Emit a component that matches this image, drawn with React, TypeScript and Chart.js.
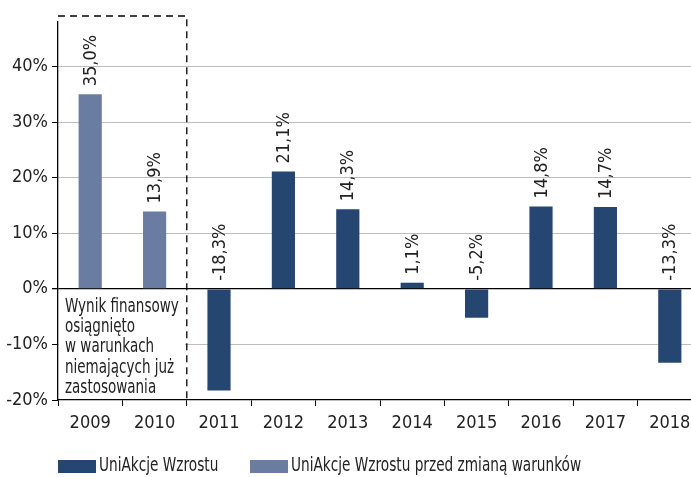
import React, { useEffect, useRef } from "react";
import { Chart, registerables } from "chart.js";

Chart.register(...registerables);

const categories = ["2009", "2010", "2011", "2012", "2013", "2014", "2015", "2016", "2017", "2018"];
const seriesMain = [null, null, -18.3, 21.1, 14.3, 1.1, -5.2, 14.8, 14.7, -13.3];
const seriesOld = [35.0, 13.9, null, null, null, null, null, null, null, null];
const yTicks = [-20, -10, 0, 10, 20, 30, 40];
const seriesLabels = ["UniAkcje Wzrostu", "UniAkcje Wzrostu przed zmianą warunków"];
const noteLines = ["Wynik finansowy", "osiągnięto", "w warunkach", "niemających już", "zastosowania"];

const FONT = "'DejaVu Sans Condensed', 'DejaVu Sans', sans-serif";
const FS = 18;
const TEXT = "#222222";
const DARK = "rgb(38,70,114)";
const LIGHT = "rgb(106,124,162)";

const fmt = (v: number) => v.toFixed(1).replace(".", ",") + "%";

const labelsPlugin = {
  id: "valueLabels",
  afterDatasetsDraw(chart: any) {
    const ctx = chart.ctx;
    const y0 = chart.scales.y.getPixelForValue(0);
    ctx.save();
    ctx.font = `${FS}px ${FONT}`;
    ctx.fillStyle = TEXT;
    ctx.textAlign = "left";
    ctx.textBaseline = "middle";
    chart.data.datasets.forEach((ds: any, di: number) => {
      const meta = chart.getDatasetMeta(di);
      meta.data.forEach((el: any, i: number) => {
        const v = ds.data[i];
        if (v === null || v === undefined) return;
        const start = v >= 0 ? el.y : y0;
        ctx.save();
        ctx.translate(el.x, start - 8);
        ctx.rotate(-Math.PI / 2);
        ctx.fillText(fmt(v), 0, 1);
        ctx.restore();
      });
    });
    ctx.restore();
  },
};

function narrowText(ctx: any, text: string, x: number, y: number, sx: number) {
  ctx.save();
  ctx.translate(x, y);
  ctx.scale(sx, 1);
  ctx.fillText(text, 0, 0);
  ctx.restore();
}

const boxPlugin = {
  id: "noteBox",
  afterDraw(chart: any) {
    const ctx = chart.ctx;
    const xs = chart.scales.x;
    const ys = chart.scales.y;
    const area = chart.chartArea;
    const xr = (xs.getPixelForValue(1) + xs.getPixelForValue(2)) / 2;
    const xl = area.left;
    const top = area.top - 6;
    const bottom = area.bottom;
    const y0 = ys.getPixelForValue(0);
    ctx.save();
    ctx.fillStyle = "#ffffff";
    ctx.fillRect(xl + 1, y0 + 2, xr - xl - 3, bottom - y0 - 3);
    ctx.strokeStyle = "#000000";
    ctx.lineWidth = 1.3;
    ctx.setLineDash([7, 5]);
    ctx.beginPath();
    ctx.moveTo(xl, top);
    ctx.lineTo(xr, top);
    ctx.lineTo(xr, bottom);
    ctx.stroke();
    ctx.setLineDash([]);
    ctx.font = `19px ${FONT}`;
    ctx.fillStyle = TEXT;
    ctx.textAlign = "left";
    ctx.textBaseline = "alphabetic";
    noteLines.forEach((line, i) => {
      narrowText(ctx, line, xl + 7, y0 + 23 + i * 20.3, 0.79);
    });
    const colors = [DARK, LIGHT];
    const starts = [area.left, area.left + 192];
    const ly = 460;
    seriesLabels.forEach((lab, i) => {
      ctx.fillStyle = colors[i];
      ctx.fillRect(starts[i], ly, 38, 13);
      ctx.fillStyle = TEXT;
      ctx.textBaseline = "middle";
      narrowText(ctx, lab, starts[i] + 41, ly + 6.5, 0.8);
    });
    ctx.restore();
  },
};

export default function App() {
  const ref = useRef<HTMLCanvasElement | null>(null);
  useEffect(() => {
    if (!ref.current) return;
    const chart = new Chart(ref.current, {
      type: "bar",
      data: {
        labels: categories,
        datasets: [
          { label: seriesLabels[0], data: seriesMain, backgroundColor: DARK, barPercentage: 0.36, categoryPercentage: 1 },
          { label: seriesLabels[1], data: seriesOld, backgroundColor: LIGHT, barPercentage: 0.36, categoryPercentage: 1 },
        ],
      },
      options: {
        animation: false,
        responsive: false,
        maintainAspectRatio: false,
        layout: { padding: { top: 22, left: 0, right: 0, bottom: 0 } },
        plugins: { legend: { display: false }, tooltip: { enabled: false } },
        datasets: { bar: { grouped: false } } as any,
        scales: {
          x: {
            grid: { display: true, drawOnChartArea: false, tickLength: 6, color: "#000", tickColor: "#000" },
            border: { display: true, color: "#000", width: 1.3 },
            ticks: { color: TEXT, font: { family: FONT, size: FS }, padding: 7, maxRotation: 0 },
            afterFit: (s: any) => { s.height = 77; },
          },
          y: {
            min: -20,
            max: 48,
            afterBuildTicks: (s: any) => { s.ticks = yTicks.map((v) => ({ value: v })); },
            grid: {
              tickLength: 6,
              color: (c: any) => (c.tick && c.tick.value === 0 ? "#000" : c.tick && c.tick.value === -20 ? "rgba(0,0,0,0)" : "#bdbdbd"),
              lineWidth: (c: any) => (c.tick && c.tick.value === 0 ? 1.3 : 1),
              tickColor: "#000",
            },
            border: { display: true, color: "#000", width: 1.3 },
            ticks: { color: TEXT, font: { family: FONT, size: FS }, padding: 4, callback: (v: any) => `${v}%` },
            afterFit: (s: any) => { s.width = 58; },
          },
        },
      },
      plugins: [labelsPlugin, boxPlugin],
    });
    return () => chart.destroy();
  }, []);
  return (
    <div style={{ position: "fixed", left: 0, top: 0, width: 691, height: 477, overflow: "hidden", background: "#fff" }}>
      <canvas ref={ref} width={702} height={477} style={{ display: "block" }} />
    </div>
  );
}
